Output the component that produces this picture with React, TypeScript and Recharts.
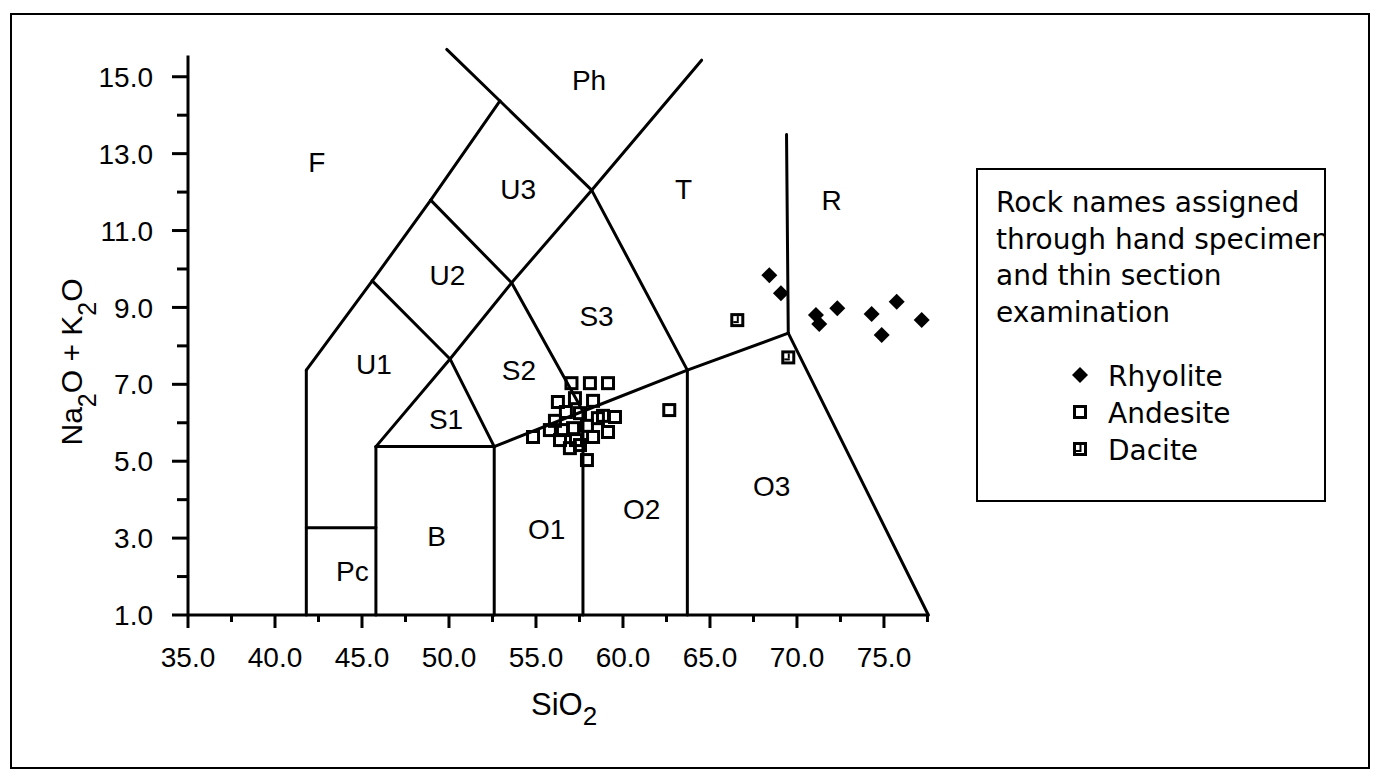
import React from 'react';
import { ScatterChart, Scatter, XAxis, YAxis, ReferenceLine, Legend } from 'recharts';

// ---------- axis ticks ----------
const xTicks = [35, 37.5, 40, 42.5, 45, 47.5, 50, 52.5, 55, 57.5, 60, 62.5, 65, 67.5, 70, 72.5, 75, 77.5];
const yTicks = [1, 2, 3, 4, 5, 6, 7, 8, 9, 10, 11, 12, 13, 14, 15];

// ---------- samples ----------
const rhyolite = [
  { x: 68.41, y: 9.84 }, { x: 69.08, y: 9.37 }, { x: 71.09, y: 8.8 }, { x: 71.28, y: 8.57 },
  { x: 72.32, y: 8.98 }, { x: 74.29, y: 8.83 }, { x: 75.73, y: 9.15 }, { x: 74.87, y: 8.28 },
  { x: 77.17, y: 8.67 },
];
const andesite = [
  { x: 57.04, y: 7.03 }, { x: 58.1, y: 7.03 }, { x: 59.14, y: 7.03 }, { x: 56.26, y: 6.54 },
  { x: 58.28, y: 6.57 }, { x: 58.85, y: 6.18 }, { x: 59.54, y: 6.15 }, { x: 54.83, y: 5.63 },
  { x: 55.8, y: 5.81 }, { x: 56.09, y: 6.05 }, { x: 56.55, y: 5.81 }, { x: 57.13, y: 5.86 },
  { x: 57.53, y: 6.25 }, { x: 57.93, y: 5.92 }, { x: 58.28, y: 5.63 }, { x: 59.14, y: 5.76 },
  { x: 56.95, y: 5.34 }, { x: 57.53, y: 5.42 }, { x: 57.93, y: 5.03 }, { x: 57.3, y: 5.55 },
  { x: 56.72, y: 6.28 }, { x: 57.24, y: 6.64 }, { x: 58.56, y: 6.12 }, { x: 56.38, y: 5.55 },
  { x: 62.66, y: 6.33 },
];
const dacite = [{ x: 66.57, y: 8.67 }, { x: 69.5, y: 7.7 }];

// ---------- TAS field names ----------
const regionLabels = [
  { name: 'F', x: 42.4, y: 12.78 }, { name: 'Ph', x: 58.05, y: 14.93 }, { name: 'U3', x: 53.97, y: 12.08 },
  { name: 'T', x: 63.48, y: 12.09 }, { name: 'R', x: 71.99, y: 11.79 }, { name: 'U2', x: 49.91, y: 9.84 },
  { name: 'S3', x: 58.48, y: 8.78 }, { name: 'U1', x: 45.69, y: 7.53 }, { name: 'S2', x: 54.02, y: 7.37 },
  { name: 'S1', x: 49.83, y: 6.1 }, { name: 'O3', x: 68.55, y: 4.36 }, { name: 'O2', x: 61.07, y: 3.76 },
  { name: 'O1', x: 55.61, y: 3.25 }, { name: 'B', x: 49.29, y: 3.05 }, { name: 'Pc', x: 44.45, y: 2.14 },
];

// ---------- TAS field boundaries (polylines, in data units) ----------
const boundaries: number[][][] = [
  [[41.8, 1], [41.8, 7.37]],
  [[41.8, 3.27], [45.8, 3.27]],
  [[45.8, 1], [45.8, 5.38]],
  [[45.8, 5.38], [52.6, 5.38]],
  [[52.6, 1], [52.6, 5.38]],
  [[57.7, 1], [57.7, 6.3]],
  [[63.7, 1], [63.7, 7.37]],
  [[52.6, 5.38], [57.7, 6.3], [63.7, 7.37], [69.5, 8.33]],
  [[69.5, 8.33], [77.55, 1]],
  [[69.5, 8.33], [69.4, 13.5]],
  [[41.8, 7.37], [45.59, 9.69], [48.95, 11.79], [52.93, 14.37]],
  [[49.87, 15.71], [52.93, 14.37], [58.2, 12.05]],
  [[58.2, 12.05], [64.52, 15.43]],
  [[45.8, 5.38], [50.06, 7.66], [53.6, 9.64], [58.2, 12.05]],
  [[45.59, 9.69], [50.06, 7.66], [52.6, 5.38]],
  [[48.95, 11.79], [53.6, 9.64], [57.7, 6.3]],
  [[58.2, 12.05], [63.7, 7.37]],
];

const legendTitle = ['Rock names assigned', 'through hand specimen', 'and thin section', 'examination'];
const legendOrder = ['Rhyolite', 'Andesite', 'Dacite'];

const TICK_FONT = "'Liberation Sans', Arial, sans-serif";
const LEGEND_FONT = "'DejaVu Sans', sans-serif";

const segments = boundaries.flatMap((line) =>
  line.slice(1).map((p, i) => [line[i], p])
);

const XTick = (props: any) => {
  const { x, y, payload } = props;
  const v = payload.value as number;
  const major = Math.abs(v % 5) < 1e-6;
  return (
    <g>
      <line x1={x} y1={y - 1} x2={x} y2={y + (major ? 13 : 7)} stroke="#000" strokeWidth={3} />
      {major && (
        <text x={x} y={y + 52} textAnchor="middle" fontFamily={TICK_FONT} fontSize={28} fill="#000">
          {v.toFixed(1)}
        </text>
      )}
    </g>
  );
};

const YTick = (props: any) => {
  const { x, y, payload } = props;
  const v = payload.value as number;
  const major = v % 2 === 1;
  return (
    <g>
      <line x1={x - (major ? 16 : 11)} y1={y} x2={x + 1} y2={y} stroke="#000" strokeWidth={3} />
      {major && (
        <text x={x - 35} y={y} dy="0.36em" textAnchor="end" fontFamily={TICK_FONT} fontSize={28} fill="#000">
          {v.toFixed(1)}
        </text>
      )}
    </g>
  );
};

const Diamond = (cx: number, cy: number, r = 8) => (
  <polygon points={`${cx},${cy - r} ${cx + r},${cy} ${cx},${cy + r} ${cx - r},${cy}`} fill="#000" />
);
const OpenSquare = (cx: number, cy: number) => (
  <rect x={cx - 5.5} y={cy - 5.5} width={11} height={11} fill="none" stroke="#000" strokeWidth={3} />
);
const DaciteSquare = (cx: number, cy: number) => (
  <g>
    <rect x={cx - 7} y={cy - 7} width={14} height={14} fill="#000" />
    <rect x={cx - 4} y={cy - 4} width={8} height={8} fill="#fff" />
    <rect x={cx - 0.5} y={cy - 4} width={2} height={5} fill="#000" />
    <rect x={cx - 4} y={cy + 1} width={5.5} height={2} fill="#000" />
  </g>
);

const symbolFor = (name: string, cx: number, cy: number) => {
  if (name === 'Rhyolite') return Diamond(cx, cy);
  if (name === 'Andesite') return OpenSquare(cx, cy);
  return DaciteSquare(cx, cy);
};

const renderLegend = (props: any) => {
  const payload = (props.payload || [])
    .filter((p: any) => legendOrder.includes(p.value))
    .sort((a: any, b: any) => legendOrder.indexOf(a.value) - legendOrder.indexOf(b.value));
  return (
    <svg width={350} height={334} style={{ display: 'block' }}>
      <defs>
        <clipPath id="legendClip">
          <rect x={2} y={2} width={346} height={330} />
        </clipPath>
      </defs>
      <rect x={1} y={1} width={348} height={332} fill="#fff" stroke="#000" strokeWidth={2} />
      <g clipPath="url(#legendClip)">
        {legendTitle.map((t, i) => (
          <text key={t} x={20} y={44 + i * 36.5} fontFamily={LEGEND_FONT} fontSize={28} fill="#000">
            {t}
          </text>
        ))}
      </g>
      {payload.map((p: any, i: number) => (
        <g key={p.value}>
          {symbolFor(p.value, 104, 207 + i * 37)}
          <text x={132} y={218 + i * 37} fontFamily={LEGEND_FONT} fontSize={28} fill="#000">
            {p.value}
          </text>
        </g>
      ))}
    </svg>
  );
};

const XLabel = () => (
  <text x={531} y={715} fontFamily={TICK_FONT} fontSize={31} fill="#000">
    SiO<tspan dy={10} fontSize={26}>2</tspan>
  </text>
);

const YLabel = () => (
  <text transform="translate(82,362) rotate(-90)" textAnchor="middle" fontFamily={TICK_FONT} fontSize={30} fill="#000">
    Na<tspan dy={14} fontSize={25}>2</tspan>
    <tspan dy={-14}>O + K</tspan>
    <tspan dy={14} fontSize={25}>2</tspan>
    <tspan dy={-14}>O</tspan>
  </text>
);

export default function App() {
  return (
    <div style={{ position: 'absolute', left: 0, top: 0, width: 1376, height: 769, background: '#fff' }}>
      <div
        style={{
          position: 'absolute',
          left: 10,
          top: 13,
          width: 1356,
          height: 752,
          border: '2px solid #000',
        }}
      />
      <ScatterChart
        width={1376}
        height={769}
        margin={{ top: 55.6, right: 446.8, bottom: 0, left: 0 }}
        style={{ position: 'absolute', left: 0, top: 0 }}
      >
        <XAxis
          type="number"
          dataKey="x"
          domain={[35, 77.6]}
          ticks={xTicks}
          interval={0}
          height={154}
          tickSize={0}
          tickMargin={0}
          tickLine={false}
          tick={<XTick />}
          axisLine={{ stroke: '#000', strokeWidth: 3 }}
          label={{ content: () => <XLabel /> }}
        />
        <YAxis
          type="number"
          dataKey="y"
          domain={[1, 15.55]}
          ticks={yTicks}
          interval={0}
          width={188}
          tickSize={0}
          tickMargin={0}
          tickLine={false}
          tick={<YTick />}
          axisLine={{ stroke: '#000', strokeWidth: 3 }}
          label={{ content: () => <YLabel /> }}
        />
        {segments.map((s, i) => (
          <ReferenceLine
            key={i}
            segment={[{ x: s[0][0], y: s[0][1] }, { x: s[1][0], y: s[1][1] }]}
            stroke="#000"
            strokeWidth={3}
            strokeLinecap="round"
            ifOverflow="visible"
          />
        ))}
        <Scatter
          name="regions"
          data={regionLabels}
          legendType="none"
          isAnimationActive={false}
          shape={(p: any) => (
            <text x={p.cx} y={p.cy} dy="0.36em" textAnchor="middle" fontFamily={TICK_FONT} fontSize={28} fill="#000">
              {p.payload.name}
            </text>
          )}
        />
        <Scatter
          name="Rhyolite"
          data={rhyolite}
          fill="#000"
          isAnimationActive={false}
          shape={(p: any) => Diamond(p.cx, p.cy)}
        />
        <Scatter
          name="Andesite"
          data={andesite}
          fill="#000"
          isAnimationActive={false}
          shape={(p: any) => OpenSquare(p.cx, p.cy)}
        />
        <Scatter
          name="Dacite"
          data={dacite}
          fill="#000"
          isAnimationActive={false}
          shape={(p: any) => DaciteSquare(p.cx, p.cy)}
        />
        <Legend
          layout="vertical"
          align="center"
          verticalAlign="middle"
          wrapperStyle={{ left: 976, top: 168, width: 350, height: 334 }}
          content={renderLegend}
        />
      </ScatterChart>
    </div>
  );
}
